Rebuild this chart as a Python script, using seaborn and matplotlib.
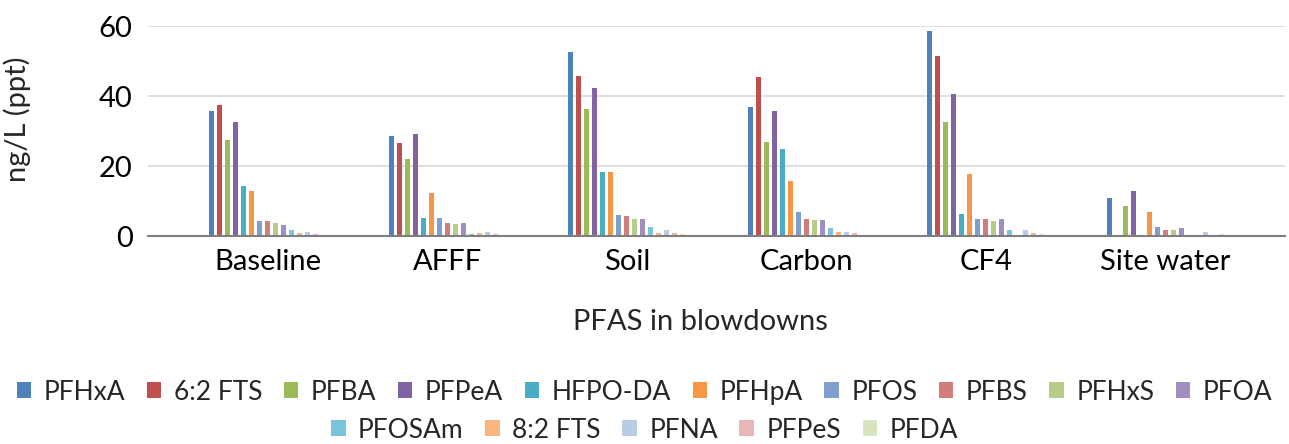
import pandas as pd
import matplotlib
matplotlib.use("Agg")
import matplotlib.pyplot as plt
import seaborn as sns
from matplotlib.patches import Patch

# Samples (x axis) and PFAS compounds (series)
samples = ["Baseline", "AFFF", "Soil", "Carbon", "CF4", "Site water"]
compounds = ["PFHxA", "6:2 FTS", "PFBA", "PFPeA", "HFPO-DA", "PFHpA", "PFOS", "PFBS",
             "PFHxS", "PFOA", "PFOSAm", "8:2 FTS", "PFNA", "PFPeS", "PFDA"]

# ng/L read per compound, in sample order
PFHxA = [35.6, 28.5, 52.6, 37.0, 58.5, 10.9]
FTS62 = [37.5, 26.7, 45.8, 45.4, 51.3, 0.0]
PFBA = [27.3, 22.1, 36.4, 27.0, 32.7, 8.7]
PFPeA = [32.6, 29.2, 42.4, 35.6, 40.5, 12.8]
HFPO_DA = [14.3, 5.2, 18.4, 24.8, 6.4, 0.0]
PFHpA = [12.8, 12.4, 18.4, 15.8, 17.7, 6.8]
PFOS = [4.2, 5.0, 6.0, 6.8, 4.9, 2.7]
PFBS = [4.2, 3.8, 5.6, 4.9, 4.9, 1.6]
PFHxS = [3.8, 3.4, 4.9, 4.5, 4.2, 1.6]
PFOA = [3.0, 3.8, 4.9, 4.5, 4.9, 2.3]
PFOSAm = [1.6, 0.5, 2.6, 2.3, 1.6, 0.0]
FTS82 = [0.9, 0.9, 0.9, 1.2, 0.0, 0.0]
PFNA = [1.2, 1.2, 1.6, 1.2, 1.6, 1.2]
PFPeS = [0.5, 0.5, 0.9, 0.9, 0.9, 0.0]
PFDA = [0.1, 0.1, 0.5, 0.1, 0.5, 0.5]

series = [PFHxA, FTS62, PFBA, PFPeA, HFPO_DA, PFHpA, PFOS, PFBS,
          PFHxS, PFOA, PFOSAm, FTS82, PFNA, PFPeS, PFDA]

colors = ["#4F81BD", "#C0504D", "#9BBB59", "#8064A2", "#4BACC6", "#F79646",
          "#7F9FCF", "#D07D7B", "#B6CC87", "#A18EC0", "#7CC4DB", "#F9B57D",
          "#B8CCE4", "#E6B9B8", "#D7E4BD"]

rows = []
for name, vals in zip(compounds, series):
    for s, v in zip(samples, vals):
        rows.append({"sample": s, "compound": name, "value": v})
df = pd.DataFrame(rows)

sns.set_style("white")
plt.rcParams["font.family"] = ["Lato", "DejaVu Sans"]

fig = plt.figure(figsize=(12.89, 4.44), dpi=100)
ax = fig.add_axes([148 / 1289, 1 - 236 / 444, (1285 - 148) / 1289, 210 / 444])

sns.barplot(data=df, x="sample", y="value", hue="compound", order=samples,
            hue_order=compounds, palette=colors, width=0.67, gap=0.35,
            saturation=1, legend=False, ax=ax, edgecolor="none")

ax.set_ylim(0, 60)
ax.set_yticks([0, 20, 40, 60])
ax.set_xlim(-0.667, 5.667)
ax.yaxis.grid(True, color="#D9D9D9", linewidth=1.2)
ax.set_axisbelow(True)
for side in ["top", "right", "left"]:
    ax.spines[side].set_visible(False)
ax.spines["bottom"].set_color("#7F7F7F")
ax.spines["bottom"].set_linewidth(1.5)
ax.tick_params(axis="both", length=0, labelsize=21, colors="black")
ax.tick_params(axis="x", pad=9)
ax.tick_params(axis="y", pad=11)
ax.set_xlabel("PFAS in blowdowns", fontsize=21)
ax.set_ylabel("ng/L (ppt)", fontsize=21)
ax.xaxis.set_label_coords(0.5 - 16 / 1137, -0.35)
ax.yaxis.set_label_coords(-0.103, 0.5 + 12 / 210)

handles = [Patch(facecolor=c, edgecolor="none") for c in colors]
leg_kw = dict(loc="center", frameon=False, fontsize=19, handlelength=0.55,
              handleheight=0.55, handletextpad=0.47, columnspacing=0.82)
fig.legend(handles[:10], compounds[:10], bbox_to_anchor=(0.5, 1 - 392 / 444), ncol=10, **leg_kw)
fig.legend(handles[10:], compounds[10:], bbox_to_anchor=(0.5, 1 - 430 / 444), ncol=5, **leg_kw)

fig.savefig("out.png", dpi=100)
